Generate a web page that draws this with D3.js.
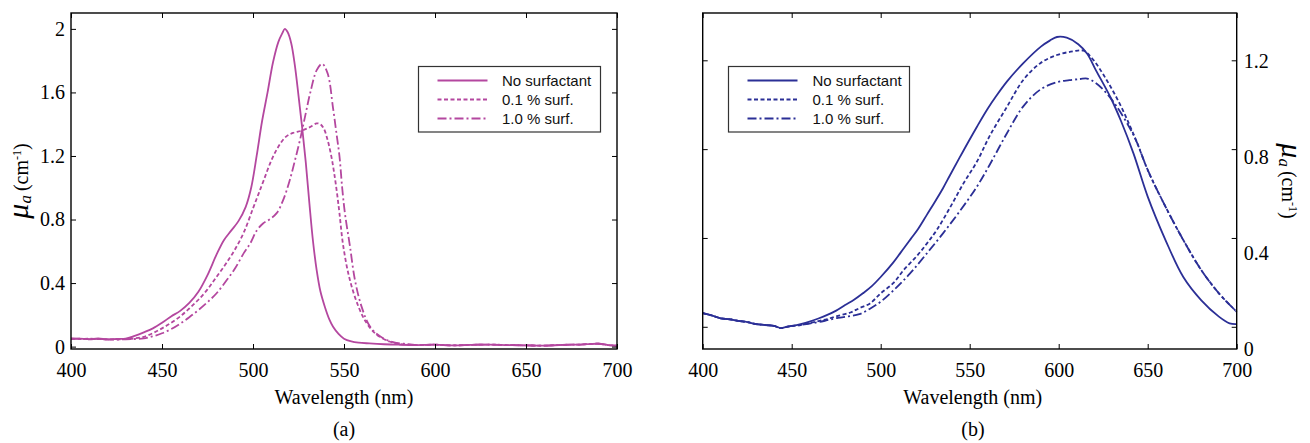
<!DOCTYPE html>
<html><head><meta charset="utf-8">
<script src="https://cdn.jsdelivr.net/npm/d3@7"></script>
<style>body{margin:0;background:#fff} svg{display:block} .tick text{font-family:'Liberation Serif','Times New Roman',serif !important;font-size:20px}</style>
</head><body>
<svg id="chart" width="1310" height="443"></svg>
<script>
// ---------- DATA ----------
const xTicks = [400, 450, 500, 550, 600, 650, 700];
const yTicksA = [0, 0.4, 0.8, 1.2, 1.6, 2];
const yTicksB = [0, 0.4, 0.8, 1.2];
const seriesNames = ["No surfactant", "0.1 % surf.", "1.0 % surf."];
const xTitle = "Wavelength (nm)";
const panelTags = ["(a)", "(b)"];

// Panel (a) – No surfactant
const wlA0 = [400,405,410,415,420,425,430,435,440,445,450,455,460,465,470,475,480,484,488,492,496,499,502,505,508,511,514,516,517.5,519,521,523,525,527,529,531,533,535,537,539.5,542,544,547,550,554,558,564,572,580,590,600,610,620,630,640,650,660,670,680,690,695,700];
const muA0 = [0.052,0.05,0.047,0.051,0.045,0.048,0.05,0.068,0.09,0.115,0.15,0.19,0.225,0.275,0.345,0.45,0.58,0.67,0.73,0.79,0.88,1.0,1.2,1.42,1.6,1.79,1.92,1.97,2.0,1.98,1.91,1.77,1.58,1.38,1.16,0.9,0.66,0.48,0.35,0.25,0.17,0.125,0.08,0.05,0.033,0.025,0.02,0.015,0.012,0.01,0.012,0.008,0.011,0.013,0.01,0.008,0.006,0.011,0.013,0.018,0.01,0.006];
// Panel (a) – 0.1 % surf.
const wlA1 = [400,405,410,415,420,425,430,435,440,445,450,455,460,465,470,475,480,485,490,495,500,503,506,510,514,518,522,527,531,535,537,539,541,543,544.5,546,547.5,549.5,553,558,562.5,568,575,580,590,600,610,620,630,640,650,660,670,680,690,695,700];
const muA1 = [0.05,0.048,0.05,0.047,0.046,0.045,0.048,0.052,0.062,0.085,0.115,0.15,0.19,0.24,0.295,0.36,0.44,0.52,0.61,0.72,0.87,0.96,1.05,1.17,1.26,1.32,1.345,1.36,1.38,1.405,1.40,1.37,1.30,1.2,1.1,0.98,0.84,0.64,0.43,0.25,0.147,0.075,0.032,0.018,0.01,0.012,0.008,0.011,0.013,0.01,0.008,0.006,0.011,0.013,0.018,0.01,0.006];
// Panel (a) – 1.0 % surf.
const wlA2 = [400,405,410,415,420,425,430,435,440,445,450,455,460,465,470,475,480,485,490,495,498.5,502,505.5,509,513,516.5,520,523,526,529,531.5,535,538,541,544,546,547.5,549,550.5,553.3,556,559.7,564.3,570,577,583,590,600,610,620,630,640,650,660,670,680,690,695,700];
const muA2 = [0.048,0.05,0.046,0.049,0.045,0.044,0.046,0.048,0.052,0.065,0.084,0.11,0.145,0.185,0.23,0.28,0.336,0.41,0.49,0.59,0.65,0.73,0.775,0.80,0.84,0.92,1.04,1.17,1.31,1.47,1.6,1.74,1.78,1.72,1.5,1.33,1.2,1.0,0.84,0.63,0.42,0.25,0.126,0.063,0.028,0.018,0.01,0.012,0.008,0.011,0.013,0.01,0.008,0.006,0.011,0.013,0.018,0.01,0.006];

// Panel (b) – No surfactant
const wlB0 = [400,405,410,415,420,425,430,435,440,444,447,450,455,460,465,470,475,480,485,490,495,500,507,513,517,521,526,531,535,539,546,554,560,565,571,580,590,595,599,604.5,611,616,621,629,635,642,650,660,670,680,690,696,700];
const muB0 = [0.149,0.14,0.128,0.124,0.117,0.112,0.104,0.1,0.096,0.087,0.092,0.096,0.104,0.114,0.127,0.142,0.16,0.183,0.205,0.232,0.262,0.30,0.36,0.42,0.46,0.50,0.56,0.62,0.67,0.725,0.82,0.925,1.0,1.055,1.115,1.19,1.26,1.285,1.30,1.297,1.27,1.23,1.16,1.05,0.95,0.815,0.635,0.454,0.30,0.204,0.135,0.107,0.104];
// Panel (b) – 0.1 % surf.
const wlB1 = [400,405,410,415,420,425,430,435,440,444,447,450,455,460,465,470,476,483,488,494,500,507,513,520,526,531.5,539,546.5,554,561.4,571,580,589.5,599,608,614,619.4,627,634.4,640,644,650,660,670,680,690,700];
const muB1 = [0.149,0.14,0.128,0.124,0.117,0.112,0.104,0.1,0.096,0.087,0.092,0.096,0.1,0.108,0.116,0.125,0.138,0.152,0.17,0.19,0.232,0.274,0.33,0.385,0.44,0.496,0.59,0.69,0.78,0.89,1.01,1.12,1.19,1.225,1.24,1.243,1.205,1.12,1.02,0.93,0.86,0.746,0.593,0.454,0.33,0.232,0.155];
// Panel (b) – 1.0 % surf.
const wlB2 = [400,405,410,415,420,425,430,435,440,444,447,450,455,460,465,470,476,482,488,494,500,508,516.5,525,535,545,554,561.4,571,580,589.5,599,606,612,616,621,627,632.6,640,644,650,660,670,680,690,700];
const muB2 = [0.149,0.14,0.128,0.124,0.117,0.112,0.104,0.1,0.096,0.087,0.092,0.096,0.1,0.106,0.112,0.12,0.13,0.136,0.145,0.168,0.197,0.25,0.315,0.39,0.482,0.58,0.676,0.77,0.9,1.01,1.08,1.112,1.12,1.125,1.127,1.107,1.065,1.01,0.92,0.86,0.746,0.593,0.454,0.33,0.232,0.155];

// ---------- DRAWING ----------
const svg = d3.select("#chart");
const FS = "'Liberation Serif','Times New Roman',serif";
const FA = "'Liberation Sans',Arial,sans-serif";
const dashArr = ["none", "4,2.5", "9,3,2,3"];
const TOP = 13, BOT = 349;

function styleAxis(g) {
  g.select(".domain").remove();
  g.attr("font-family", null).attr("font-size", null);
  g.selectAll(".tick line").attr("stroke", "#000").attr("stroke-width", 1);
  g.selectAll(".tick text").style("font-family", FS).style("font-size", "20px").attr("fill", "#000");
}

function drawPanel(cfg) {
  const { x, yTick, yData, yLabelScale, yTicks, labelRight, series, color, legend, tagX, tag } = cfg;
  const g = svg.append("g");
  const [x0, x1] = x.range();

  const line = d3.line().x(d => x(d[0])).y(d => yData(d[1])).curve(d3.curveCatmullRom.alpha(0.5));
  [2, 1, 0].forEach(i => {
    g.append("path").datum(d3.zip(series[i].wl, series[i].mu))
      .attr("d", line).attr("fill", "none").attr("stroke", color)
      .attr("stroke-width", 1.8).attr("stroke-dasharray", dashArr[i])
      .attr("stroke-linejoin", "round");
  });

  g.append("g").attr("transform", `translate(0,${BOT})`)
    .call(d3.axisBottom(x).tickValues(xTicks).tickSizeInner(-5).tickSizeOuter(0).tickPadding(14).tickFormat(d3.format("d")))
    .call(styleAxis);
  g.append("g").attr("transform", `translate(0,${TOP})`)
    .call(d3.axisTop(x).tickValues(xTicks).tickSizeInner(-5).tickSizeOuter(0).tickFormat(""))
    .call(styleAxis);
  const fmt = d => (d === 0 ? "0" : (Number.isInteger(d) ? String(d) : d3.format(".1f")(d)));
  if (!labelRight) {
    g.append("g").attr("transform", `translate(${x0},0)`)
      .call(d3.axisLeft(yTick).tickValues(yTicks).tickSizeInner(-5).tickSizeOuter(0).tickPadding(6).tickFormat(fmt))
      .call(styleAxis);
    g.append("g").attr("transform", `translate(${x1},0)`)
      .call(d3.axisRight(yTick).tickValues(yTicks).tickSizeInner(-5).tickSizeOuter(0).tickFormat(""))
      .call(styleAxis);
  } else {
    g.append("g").attr("transform", `translate(${x0},0)`)
      .call(d3.axisLeft(yTick).tickValues(yTicks).tickSizeInner(-5).tickSizeOuter(0).tickFormat(""))
      .call(styleAxis);
    g.append("g").attr("transform", `translate(${x1},0)`)
      .call(d3.axisRight(yTick).tickValues(yTicks).tickSizeInner(-5).tickSizeOuter(0).tickFormat(""))
      .call(styleAxis);
    g.append("g").attr("transform", `translate(${x1},0)`)
      .call(d3.axisRight(yLabelScale).tickValues(yTicks).tickSize(0).tickPadding(7).tickFormat(fmt))
      .call(styleAxis);
  }

  g.append("rect").attr("x", x0).attr("y", TOP).attr("width", x1 - x0).attr("height", BOT - TOP)
    .attr("fill", "none").attr("stroke", "#000").attr("stroke-width", 1.4);

  g.append("text").attr("x", (x0 + x1) / 2 + (labelRight ? 3 : 0)).attr("y", 404)
    .attr("text-anchor", "middle").attr("font-family", FS).attr("font-size", 20).attr("fill", "#000").text(xTitle);
  g.append("text").attr("x", tagX).attr("y", 436)
    .attr("text-anchor", "middle").attr("font-family", FS).attr("font-size", 20).attr("fill", "#000").text(tag);

  const L = legend;
  g.append("rect").attr("x", L.x).attr("y", L.y).attr("width", L.w).attr("height", L.h)
    .attr("fill", "#fff").attr("stroke", "#333").attr("stroke-width", 1.2);
  seriesNames.forEach((name, i) => {
    const yy = L.rows[i];
    g.append("line").attr("x1", L.lx0).attr("x2", L.lx1).attr("y1", yy).attr("y2", yy)
      .attr("stroke", color).attr("stroke-width", 2).attr("stroke-dasharray", dashArr[i]);
    g.append("text").attr("x", L.tx).attr("y", yy).attr("dy", "0.36em")
      .attr("font-family", FA).attr("font-size", 15).attr("fill", "#111").text(name);
  });
}

function yTitle(tx, ty, rot) {
  const t = svg.append("text").attr("transform", `translate(${tx},${ty}) rotate(${rot})`)
    .attr("text-anchor", "middle").attr("font-family", FS).attr("fill", "#000");
  t.append("tspan").attr("font-size", 30).attr("font-style", "italic").text("μ");
  t.append("tspan").attr("font-size", 17).attr("font-style", "italic").attr("dy", 3).text("a");
  t.append("tspan").attr("font-size", 20).attr("dy", -3).attr("dx", 4).text("(cm");
  t.append("tspan").attr("font-size", 12).attr("dy", -7).text("-1");
  t.append("tspan").attr("font-size", 20).attr("dy", 7).text(")");
}

const xA = d3.scaleLinear().domain([400, 700]).range([71, 617]);
const yA = d3.scaleLinear().domain([-0.015, 2.1]).range([BOT, TOP]);
drawPanel({
  x: xA, yTick: yA, yData: yA, yTicks: yTicksA, labelRight: false,
  series: [{ wl: wlA0, mu: muA0 }, { wl: wlA1, mu: muA1 }, { wl: wlA2, mu: muA2 }],
  color: "#b4479f",
  legend: { x: 418.5, y: 66.5, w: 182, h: 65.5, lx0: 437.5, lx1: 487.5, tx: 502, rows: [80.5, 99.5, 118.5] },
  tagX: 344, tag: panelTags[0]
});

const xB = d3.scaleLinear().domain([400, 700]).range([702.7, 1236.7]);
const yBtick = d3.scaleLinear().domain([-0.1, 1.413]).range([BOT, TOP]);
const yB = d3.scaleLinear().domain([0, 1.4]).range([BOT, TOP]);
drawPanel({
  x: xB, yTick: yBtick, yData: yB, yLabelScale: yB, yTicks: yTicksB, labelRight: true,
  series: [{ wl: wlB0, mu: muB0 }, { wl: wlB1, mu: muB1 }, { wl: wlB2, mu: muB2 }],
  color: "#2b2f96",
  legend: { x: 728.5, y: 66.5, w: 181, h: 65.5, lx0: 747.5, lx1: 797.5, tx: 812.5, rows: [80.5, 99.5, 118.5] },
  tagX: 973, tag: panelTags[1]
});

yTitle(28, 181, -90);
yTitle(1282, 181, 90);
</script>
</body></html>
